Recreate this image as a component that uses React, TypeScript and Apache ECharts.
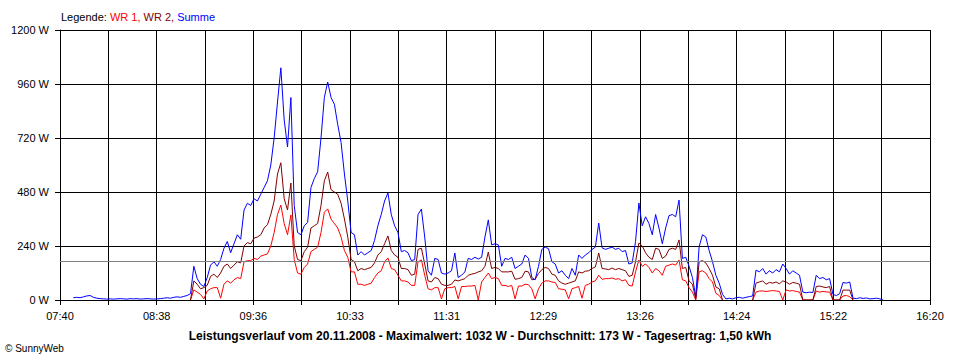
import React, { useEffect, useRef } from "react";
import * as echarts from "echarts";

// Sampling grid: one reading every 2 minutes from 07:40 (offset 0) to 16:20 (offset 520)
const STEP_MIN = 2;
const SPAN_MIN = 520;

const TICK_LABELS = ["07:40", "08:38", "09:36", "10:33", "11:31", "12:29", "13:26", "14:24", "15:22", "16:20"];
const Y_MAX = 1200;
const Y_STEP = 240;
const AVERAGE_W = 173;

const LEGEND_ITEMS = ["WR 1", "WR 2", "Summe"];
const CAPTION = "Leistungsverlauf vom 20.11.2008 - Maximalwert: 1032 W - Durchschnitt: 173 W - Tagesertrag: 1,50 kWh";
const COPYRIGHT = "© SunnyWeb";

const _ = null;

// WR 1 (red)
const WR1: (number | null)[] = [
  _, _, _, _, _, _, _, _, _, _,
  _, _, _, _, _, _, _, _, _, _,
  _, _, _, _, _, _, _, _, _, _,
  _, _, _, _, _, _, _, _, _, 0,
  45, 35, 25, 5, 40, 50, 55, 55, 8, 70,
  85, 75, 90, 100, 95, 170, 175, 175, 185, 180,
  195, 200, 205, 240, 300, 380, 422, 340, 290, 378,
  180, 120, 115, 145, 160, 215, 225, 235, 300, 390,
  405, 360, 340, 320, 280, 220, 190, 125, 125, 70,
  70, 65, 70, 75, 100, 120, 130, 170, 187, 140,
  135, 110, 85, 85, 80, 65, 65, 170, 178, 110,
  50, 45, 55, 55, 5, 50, 55, 55, 60, 5,
  60, 60, 62, 62, 65, 0, 80, 100, 120, 95,
  100, 95, 65, 65, 60, 65, 5, 62, 62, 70,
  68, 50, 5, 50, 75, 85, 85, 80, 78, 50,
  48, 45, 5, 50, 55, 60, 8, 65, 70, 80,
  85, 110, 92, 95, 95, 98, 92, 95, 85, 90,
  65, 62, 125, 178, 150, 160, 145, 120, 140, 130,
  110, 150, 155, 160, 155, 178, 90, 85, 55, 35,
  0, 125, 130, 120, 95, 80, 30, 20, 0, _,
  _, _, _, _, _, _, _, 0, 35, 40,
  40, 38, 40, 42, 40, 38, 0, 45, 40, 42,
  38, 35, 0, 0, 0, 0, 40, 35, 38, 36,
  35, 0, 0, 0, 18, 20, 15, 0, _, _,
  _, _, _, _, _, _, _, _, _, _,
  _, _, _, _, _, _, _, _, _, _,
  _,
];

// WR 2 (dark red)
const WR2: (number | null)[] = [
  _, _, _, _, _, _, _, _, _, _,
  _, _, _, _, _, _, _, _, _, _,
  _, _, _, _, _, _, _, _, _, _,
  _, _, _, _, _, _, _, _, _, 0,
  85, 70, 50, 55, 65, 105, 115, 100, 120, 150,
  160, 140, 155, 170, 165, 240, 255, 250, 275, 280,
  290, 320, 335, 380, 440, 560, 610, 450, 400, 520,
  240, 180, 175, 215, 235, 320, 330, 340, 420, 530,
  569, 490, 480, 470, 430, 360, 280, 180, 170, 130,
  140, 135, 140, 145, 165, 200, 215, 250, 285, 220,
  200, 190, 140, 140, 135, 110, 115, 225, 230, 160,
  85, 80, 100, 95, 70, 65, 65, 70, 89, 85,
  90, 95, 110, 115, 118, 125, 130, 150, 213, 140,
  145, 140, 125, 125, 125, 128, 92, 95, 100, 128,
  125, 90, 92, 118, 135, 145, 140, 115, 110, 85,
  75, 70, 75, 80, 85, 125, 120, 128, 130, 140,
  147, 209, 140, 138, 135, 142, 135, 140, 135, 130,
  105, 110, 170, 253, 240, 210, 190, 180, 230, 225,
  185, 195, 225, 230, 225, 267, 140, 145, 85, 70,
  5, 170, 175, 165, 140, 110, 58, 50, 0, _,
  _, _, _, _, _, _, _, 0, 75, 80,
  85, 70, 78, 75, 80, 72, 85, 80, 70, 78,
  75, 70, 0, 0, 0, 0, 60, 62, 58, 55,
  60, 0, 0, 0, 44, 44, 44, 0, _, _,
  _, _, _, _, _, _, _, _, _, _,
  _, _, _, _, _, _, _, _, _, _,
  _,
];

// Summe (blue)
const SUMME: (number | null)[] = [
  _, _, _, _, 10, 12, 10, 14, 18, 20,
  12, 8, 6, 5, 4, 5, 4, 5, 6, 5,
  4, 6, 5, 6, 4, 5, 6, 5, 4, 5,
  6, 8, 10, 8, 12, 14, 12, 16, 20, 28,
  150, 95, 70, 60, 100, 155, 170, 150, 180, 230,
  260, 210, 250, 290, 270, 400, 430, 420, 450, 440,
  470, 500, 530, 600, 720, 880, 1032, 800, 680, 900,
  420, 300, 290, 330, 345, 500, 540, 570, 720, 900,
  969, 900, 870, 780, 700, 560, 440, 300, 290, 200,
  215, 200, 210, 220, 265, 330, 380, 440, 476, 380,
  330, 300, 215, 220, 210, 175, 180, 380, 404, 280,
  130, 110, 185, 180, 120, 115, 120, 130, 209, 100,
  110, 125, 185, 180, 190, 182, 190, 280, 356, 245,
  250, 245, 150, 185, 180, 190, 140, 150, 160, 200,
  185, 100, 90, 150, 225, 235, 228, 170, 160, 120,
  130, 110, 95, 140, 110, 200, 185, 200, 210, 225,
  235, 342, 232, 225, 230, 235, 225, 230, 215, 220,
  160, 165, 260, 431, 330, 370, 340, 290, 380, 320,
  250, 320, 375, 380, 370, 444, 185, 190, 150, 100,
  15, 236, 290, 280, 220, 170, 110, 75, 25, 5,
  8, 5, 10, 12, 8, 12, 15, 18, 133, 125,
  140, 115, 130, 120, 135, 125, 160, 140, 115, 130,
  120, 110, 35, 32, 35, 33, 110, 95, 100, 90,
  95, 25, 20, 28, 78, 75, 80, 8, 6, 10,
  7, 9, 5, 6, 8, 5, 0, _, _, _,
  _, _, _, _, _, _, _, _, _, _,
  _,
];

const COLORS = { wr1: "#ff0000", wr2: "#800000", summe: "#0000ff", avg: "#808080" };
const FONT = "'Liberation Sans', Arial, sans-serif";

const toPairs = (arr: (number | null)[]) => arr.map((v, i) => [i * STEP_MIN, v]);

export default function App() {
  const ref = useRef<HTMLDivElement>(null);
  useEffect(() => {
    if (!ref.current) return;
    const chart = echarts.init(ref.current, undefined, { renderer: "svg" });
    const tickInterval = SPAN_MIN / 18;
    const lineSeries = (name: string, data: (number | null)[], color: string, extra: any = {}) => ({
      name,
      type: "line",
      data: toPairs(data),
      showSymbol: false,
      symbol: "none",
      connectNulls: false,
      lineStyle: { color, width: 1 },
      itemStyle: { color },
      emphasis: { disabled: true },
      ...extra,
    });
    chart.setOption({
      animation: false,
      backgroundColor: "#ffffff",
      textStyle: { fontFamily: FONT },
      title: [
        {
          text: `{k|Legende: }{r|${LEGEND_ITEMS[0]}, }{d|${LEGEND_ITEMS[1]}, }{b|${LEGEND_ITEMS[2]}}`,
          left: 61,
          top: 11,
          padding: 0,
          textStyle: {
            fontSize: 11,
            fontWeight: "normal",
            fontFamily: FONT,
            rich: {
              k: { color: "#000", fontSize: 11, fontFamily: FONT },
              r: { color: COLORS.wr1, fontSize: 11, fontFamily: FONT },
              d: { color: COLORS.wr2, fontSize: 11, fontFamily: FONT },
              b: { color: COLORS.summe, fontSize: 11, fontFamily: FONT },
            },
          },
        },
        {
          text: CAPTION,
          left: "center",
          top: 330,
          padding: 0,
          textStyle: { fontSize: 12, fontWeight: "bold", color: "#000", fontFamily: FONT },
        },
        {
          text: COPYRIGHT,
          left: 5,
          top: 343,
          padding: 0,
          textStyle: { fontSize: 10, fontWeight: "normal", color: "#000", fontFamily: FONT },
        },
      ],
      grid: { left: 60, right: 30, top: 30, bottom: 60, containLabel: false },
      xAxis: [
        {
          type: "value",
          min: 0,
          max: SPAN_MIN,
          interval: tickInterval,
          axisLine: { show: true, lineStyle: { color: "#000", width: 1 } },
          axisTick: { show: true, length: 5, lineStyle: { color: "#000" } },
          axisLabel: {
            color: "#000",
            fontSize: 11,
            fontFamily: FONT,
            margin: 10,
            formatter: (v: number) => {
              const k = Math.round(v / tickInterval);
              return k % 2 === 0 ? TICK_LABELS[k / 2] ?? "" : "";
            },
          },
          splitLine: { show: true, lineStyle: { color: "#000", width: 1 } },
        },
        {
          type: "value",
          min: 0,
          max: SPAN_MIN,
          position: "bottom",
          z: 5,
          axisLine: { show: true, lineStyle: { color: "#000", width: 1 } },
          axisTick: { show: false },
          axisLabel: { show: false },
          splitLine: { show: false },
        },
      ],
      yAxis: {
        type: "value",
        min: 0,
        max: Y_MAX,
        interval: Y_STEP,
        axisLine: { show: true, lineStyle: { color: "#000", width: 1 } },
        axisTick: { show: true, length: 5, lineStyle: { color: "#000" } },
        axisLabel: {
          color: "#000",
          fontSize: 11,
          fontFamily: FONT,
          margin: 11,
          formatter: (v: number) => `${v} W`,
        },
        splitLine: { show: true, lineStyle: { color: "#000", width: 1 } },
      },
      series: [
        lineSeries(LEGEND_ITEMS[0], WR1, COLORS.wr1, {
          markLine: {
            silent: true,
            symbol: "none",
            label: { show: false },
            lineStyle: { color: COLORS.avg, width: 1, type: "solid" },
            data: [{ yAxis: AVERAGE_W }],
          },
        }),
        lineSeries(LEGEND_ITEMS[1], WR2, COLORS.wr2),
        lineSeries(LEGEND_ITEMS[2], SUMME, COLORS.summe),
      ],
    });
    return () => chart.dispose();
  }, []);
  return (
    <div
      ref={ref}
      style={{ position: "absolute", left: 0, top: 0, width: 960, height: 360, background: "#fff" }}
    />
  );
}
